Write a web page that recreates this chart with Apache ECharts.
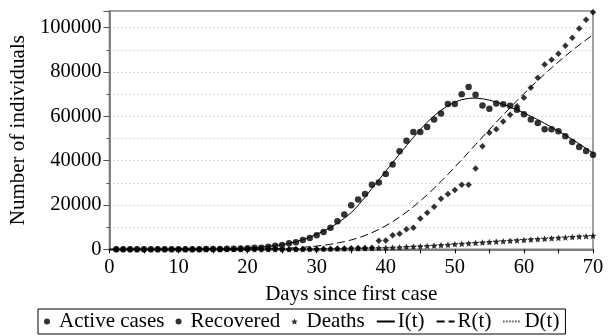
<!DOCTYPE html>
<html>
<head>
<meta charset="utf-8">
<script src="https://cdn.jsdelivr.net/npm/echarts@6/dist/echarts.min.js"></script>
<style>html,body{margin:0;padding:0;background:#fff}#c{width:613px;height:336px}</style>
</head>
<body>
<div id="c"></div>
<script>
// Observed data, days 1..70
var dataDays = Array.from({length: 70}, function (_, i) { return i + 1; });
var activeCases = [1,1,2,2,3,5,8,10,15,20,30,40,60,80,110,150,200,260,340,450,
  700,700,1100,1600,1900,2700,3150,4200,5100,6300,7800,9700,12700,15700,19900,
  22500,25000,29100,30100,34000,38200,44200,49000,52900,52900,55200,58600,61300,65500,65500,
  70000,73200,69700,64900,63400,65800,65400,64800,63000,60900,58600,57000,54100,54100,53200,
  51000,48400,46200,44400,42600];
var recovered = [0,0,0,0,0,0,0,0,0,0,0,0,0,0,0,0,0,0,0,0,
  5,10,15,20,30,40,60,80,110,150,200,260,330,400,480,560,640,700,3900,4000,
  6300,7000,9000,9700,13900,16500,19200,22800,24900,26800,29100,29100,36400,46500,52600,
  54100,57700,60700,64500,68400,72900,77400,83400,85500,88200,91800,95400,99600,103500,106900];
var deaths = [0,0,0,0,0,0,0,0,0,0,0,0,0,0,1,1,2,3,4,5,
  7,10,15,20,30,40,55,70,90,120,150,190,230,280,330,390,450,520,600,700,
  810,930,1060,1200,1350,1500,1670,1850,2030,2300,2480,2670,2860,3050,3240,
  3430,3620,3810,4000,4190,4380,4570,4760,4950,5140,5330,5520,5710,5900,6100];
// Model curves, days 0..70
var modelDays = Array.from({length: 71}, function (_, i) { return i; });
var modelI = [3,4,5,6,8,11,15,19,25,32,42,55,70,90,120,160,210,270,350,460,
  600,780,1000,1300,1650,2100,2700,3400,4300,5400,6800,8200,9800,11800,14000,16500,19800,23500,27500,31300,
  35200,39100,43000,46800,50500,54000,57300,60200,62700,64800,66400,67500,68100,68200,67900,67300,66400,65400,64200,62900,
  61500,60000,58500,56800,55100,53300,51500,49600,47600,45500,43400];
var modelR = [0,1,1,1,2,2,3,4,5,7,9,11,14,18,23,30,39,50,65,88,
  130,160,210,270,340,430,550,710,900,1140,1450,1820,2270,2810,3460,4220,5130,6210,7490,8960,
  10620,12480,14530,16780,19210,21820,24600,27540,30620,33800,37080,40430,43820,47230,50630,54010,57360,60650,63890,67070,
  70180,73220,76180,79060,81860,84570,87190,89720,92150,94480,96700];
var modelD = [0,0,0,0,0,0,0,0,0,0,1,1,1,1,1,2,3,3,4,6,
  8,10,14,18,22,28,36,46,59,74,94,118,148,183,225,274,333,404,487,582,
  690,811,944,1090,1249,1418,1599,1790,1990,2197,2410,2628,2848,3070,3291,3511,3728,3942,4153,4360,
  4562,4759,4952,5139,5321,5497,5667,5832,5990,6141,6286];
var xTicks = [0,10,20,30,40,50,60,70];
var yTicks = [0,20000,40000,60000,80000,100000];

function pairs(xs, ys) { return xs.map(function (x, i) { return [x, ys[i]]; }); }

var FONT = '"Liberation Serif","DejaVu Serif",serif';
var starPath = 'path://M0,-10L2.9,-4L9.5,-3.1L4.8,1.5L5.9,8.1L0,5L-5.9,8.1L-4.8,1.5L-9.5,-3.1L-2.9,-4Z';
var noSym = {color: 'rgba(0,0,0,0)', borderWidth: 0, borderColor: 'rgba(0,0,0,0)'};

var chart = echarts.init(document.getElementById('c'), null, {renderer: 'canvas'});
chart.setOption({
  animation: false,
  backgroundColor: '#fff',
  grid: {left: 106, right: 20, top: 11, bottom: 86.7, show: true, borderColor: '#808080', borderWidth: 1.5},
  legend: {
    left: 38, top: 309,
    orient: 'horizontal',
    padding: [2, 6],
    borderColor: '#000', borderWidth: 1,
    itemWidth: 18, itemHeight: 6, itemGap: 11,
    textStyle: {fontFamily: FONT, fontSize: 21, color: '#000', padding: [0, 0, 0, -2]},
    data: [{name: 'Active cases', icon: 'circle'},
      {name: 'Recovered', icon: 'circle'},
      {name: 'Deaths'},
      {name: 'I(t)', itemStyle: noSym},
      {name: 'R(t)', itemStyle: noSym},
      {name: 'D(t)', itemStyle: noSym}]
  },
  xAxis: {
    type: 'value', min: 0, max: 70, interval: 5,
    name: 'Days since first case', nameLocation: 'middle', nameGap: 35,
    nameTextStyle: {fontFamily: FONT, fontSize: 21, color: '#000'},
    axisLine: {onZero: false, lineStyle: {color: '#808080', width: 2}},
    axisTick: {show: true, inside: false, length: 4, lineStyle: {color: '#000', width: 1}},
    axisLabel: {
      fontFamily: FONT, fontSize: 20.5, color: '#000', margin: 8,
      formatter: function (v) { return xTicks.indexOf(v) >= 0 ? String(v) : ''; }
    },
    splitLine: {show: false}
  },
  yAxis: [{
    type: 'value', min: 0, max: 107500, interval: 10000,
    name: 'Number of individuals', nameLocation: 'middle', nameGap: 73,
    nameTextStyle: {fontFamily: FONT, fontSize: 21, color: '#000'},
    axisLine: {show: true, onZero: false, lineStyle: {color: '#808080', width: 2}},
    axisTick: {show: true, length: 3, lineStyle: {color: '#555', width: 1}},
    axisLabel: {
      fontFamily: FONT, fontSize: 20.5, color: '#000', margin: 8, showMaxLabel: false,
      formatter: function (v) { return yTicks.indexOf(v) >= 0 ? String(v) : ''; }
    },
    splitLine: {show: true, lineStyle: {color: '#bdbdbd', type: [1, 3], width: 1}}
  }, {
    type: 'value', min: 0, max: 107500, interval: 20000, position: 'left',
    axisLine: {show: false},
    axisTick: {show: true, length: 6, lineStyle: {color: '#555', width: 1}},
    axisLabel: {show: false},
    splitLine: {show: false}
  }],
  series: [
    {name: 'I(t)', type: 'line', data: pairs(modelDays, modelI), showSymbol: false, symbol: 'none',
      lineStyle: {color: '#000', width: 1, type: 'solid'}, itemStyle: {color: '#000'}, z: 2},
    {name: 'R(t)', type: 'line', data: pairs(modelDays, modelR), showSymbol: false, symbol: 'none',
      lineStyle: {color: '#000', width: 1, type: [8, 4]}, itemStyle: {color: '#000'}, z: 2},
    {name: 'D(t)', type: 'line', data: pairs(modelDays, modelD), showSymbol: false, symbol: 'none',
      lineStyle: {color: '#000', width: 1, type: [1, 2]}, itemStyle: {color: '#000'}, z: 2},
    {name: 'Active cases', type: 'scatter', data: pairs(dataDays, activeCases), symbol: 'circle', symbolSize: 6.5,
      itemStyle: {color: '#000'}, z: 3},
    {name: 'Recovered', type: 'scatter', data: pairs(dataDays, recovered), symbol: 'diamond', symbolSize: 6.5,
      itemStyle: {color: '#000'}, z: 3},
    {name: 'Deaths', type: 'scatter', data: pairs(dataDays, deaths), symbol: starPath, symbolSize: 6.5,
      itemStyle: {color: '#000'}, z: 3}
  ]
});
</script>
</body>
</html>
